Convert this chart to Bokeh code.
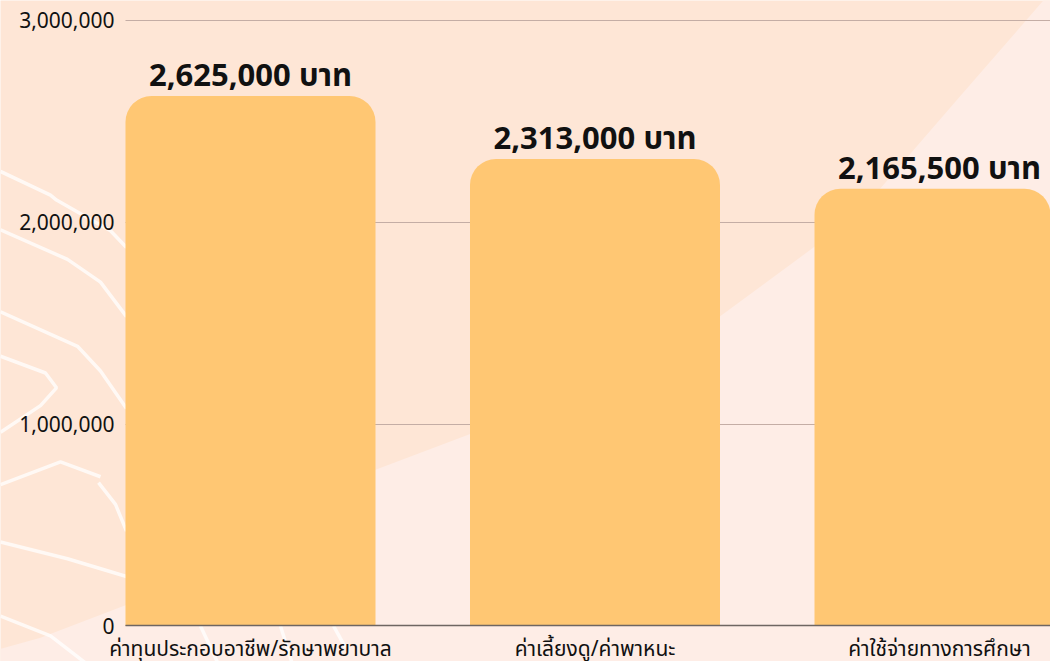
from bokeh.plotting import figure
from bokeh.models import Range1d, FixedTicker, Grid
from bokeh.core.properties import value
from bokeh.embed import file_html
from bokeh.resources import INLINE

categories = ["ค่าทุนประกอบอาชีพ/รักษาพยาบาล", "ค่าเลี้ยงดู/ค่าพาหนะ", "ค่าใช้จ่ายทางการศึกษา"]
amounts = [2625000, 2313000, 2165500]
value_labels = ["2,625,000 บาท", "2,313,000 บาท", "2,165,500 บาท"]
y_ticks = [0, 1000000, 2000000, 3000000]
y_tick_labels = ["0", "1,000,000", "2,000,000", "3,000,000"]

BG = "#FEE6D6"
LIGHT = "#FEEDE6"
BAR = "#FFC773"
FONT = "Noto Sans, Noto Sans Thai, sans-serif"

W, H = 1050, 661
REF_H = 669


# reference-pixel helpers for the decorative background only
def dx(rx):
    return (rx - 250) / 344.5


def dy(ry):
    return (633 - ry) / 613 * 3e6


p = figure(width=W, height=H, output_backend="svg", toolbar_location=None,
           x_range=Range1d(dx(0), dx(W)), y_range=Range1d(dy(REF_H), dy(0)),
           min_border=0, min_border_left=0, min_border_right=0,
           min_border_top=0, min_border_bottom=0)
p.background_fill_color = BG
p.border_fill_color = BG
p.outline_line_color = None

# lighter sweeping region
light_px = [(1060, -20), (1080, -20), (1080, 700), (-20, 700), (-20, 662), (40, 645), (125, 612),
            (250, 548), (375, 475), (469, 439), (600, 380), (719, 320), (813, 250), (880, 190),
            (957, 100), (1060, -20)]
p.patch([dx(a) for a, b in light_px], [dy(b) for a, b in light_px],
        fill_color=LIGHT, line_color=None, level="underlay")

waves_px = [
    [(0, 173), (50, 197), (56, 202), (110, 233), (126, 250)],
    [(0, 232), (67, 262), (100, 285), (126, 320)],
    [(0, 315), (77, 350), (100, 375), (126, 413)],
    [(0, 360), (45, 377), (56, 392), (40, 410), (0, 437)],
    [(0, 490), (60, 467), (100, 482)],
    [(98, 488), (115, 510), (126, 537)],
    [(0, 548), (67, 565), (126, 583)],
    [(0, 623), (50, 643), (87, 672)],
    [(200, 633), (218, 672)],
    [(280, 633), (292, 672)],
    [(333, 633), (345, 655)],
]
p.multi_line([[dx(a) for a, b in w] for w in waves_px], [[dy(b) for a, b in w] for w in waves_px],
             line_color="white", line_alpha=0.75, line_width=3.5, level="underlay")

xs = list(range(len(categories)))
p.vbar(x=xs, top=amounts, bottom=0, width=250 / 344.5, fill_color=BAR,
       line_color=None, border_radius=(26, 26, 0, 0))
p.text(x=xs, y=amounts, text=value_labels, text_align="center", text_baseline="alphabetic",
       y_offset=-22, text_font=value(FONT), text_font_size="31px", text_font_style="bold",
       text_color="#111111")

# axes drawn inside the canvas at fixed locations
p.xaxis.fixed_location = 0
p.xaxis.bounds = (dx(125), dx(1058))
p.xaxis.ticker = FixedTicker(ticks=xs)
p.xaxis.major_label_overrides = {i: c for i, c in zip(xs, categories)}
p.xaxis.major_label_text_font = FONT
p.xaxis.major_label_text_font_size = "21px"
p.xaxis.major_label_text_color = "#111111"
p.xaxis.major_label_standoff = 2
p.xaxis.major_tick_line_color = None
p.xaxis.minor_tick_line_color = None
p.xaxis.axis_line_color = "#6E6662"
p.xaxis.axis_line_width = 1.5

p.yaxis.fixed_location = dx(125)
p.yaxis.ticker = FixedTicker(ticks=y_ticks)
p.yaxis.major_label_overrides = {t: l for t, l in zip(y_ticks, y_tick_labels)}
p.yaxis.major_label_text_font = FONT
p.yaxis.major_label_text_font_size = "21px"
p.yaxis.major_label_text_color = "#111111"
p.yaxis.major_label_standoff = 5
p.yaxis.major_tick_line_color = None
p.yaxis.minor_tick_line_color = None
p.yaxis.axis_line_color = None

p.xgrid.grid_line_color = None
p.ygrid.ticker = FixedTicker(ticks=y_ticks)
p.ygrid.grid_line_color = "#C4ADA5"
p.ygrid.grid_line_width = 1
if "cross_bounds" in Grid.properties():
    p.ygrid.cross_bounds = (dx(125), dx(1058))

open("out.html", "w").write(file_html(p, INLINE))
